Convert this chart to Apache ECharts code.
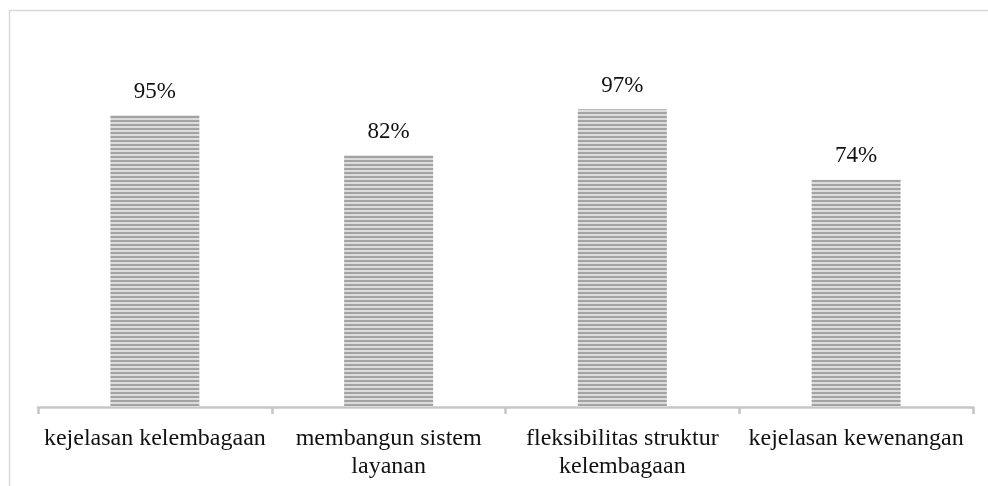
<!DOCTYPE html>
<html><head><meta charset="utf-8">
<script src="https://cdn.jsdelivr.net/npm/echarts@6/dist/echarts.min.js"></script>
<style>html,body{margin:0;padding:0;background:#fff}#c{width:988px;height:486px}</style>
</head><body><div id="c"></div>
<script>
const categories = ['kejelasan kelembagaan', 'membangun sistem\nlayanan', 'fleksibilitas struktur\nkelembagaan', 'kejelasan kewenangan'];
const values = [95, 82, 97, 74];

const pc = document.createElement('canvas');
pc.width = 4; pc.height = 4;
const g = pc.getContext('2d');
g.fillStyle = '#dcdcdc'; g.fillRect(0,0,4,4);
g.fillStyle = '#a3a3a3'; g.fillRect(0,0,4,2);

const chart = echarts.init(document.getElementById('c'));
chart.setOption({
  animation: false,
  graphic: [{type:'rect', shape:{x:9.5,y:10.5,width:1000,height:500}, style:{fill:'none', stroke:'#d9d9d9', lineWidth:1.5}}],
  grid: {left: 38, right: 15, top: 100, bottom: 79},
  xAxis: {type:'category', data: categories,
    axisLine:{lineStyle:{color:'#c6c6c6', width:2.5}},
    axisTick:{show:true, length:7, lineStyle:{color:'#c6c6c6', width:2.5}},
    axisLabel:{interval:0, color:'#111', fontFamily:'Liberation Serif', fontSize:24, lineHeight:28, margin:18}},
  yAxis: {type:'value', min:0, max:100, show:false, splitLine:{show:false}},
  series: [{type:'bar', data: values, barWidth: 89,
    itemStyle:{color:{image: pc, repeat:'repeat'}},
    label:{show:true, position:'top', distance:12, formatter:'{c}%', color:'#111', fontFamily:'Liberation Serif', fontSize:23}}]
});
</script></body></html>
